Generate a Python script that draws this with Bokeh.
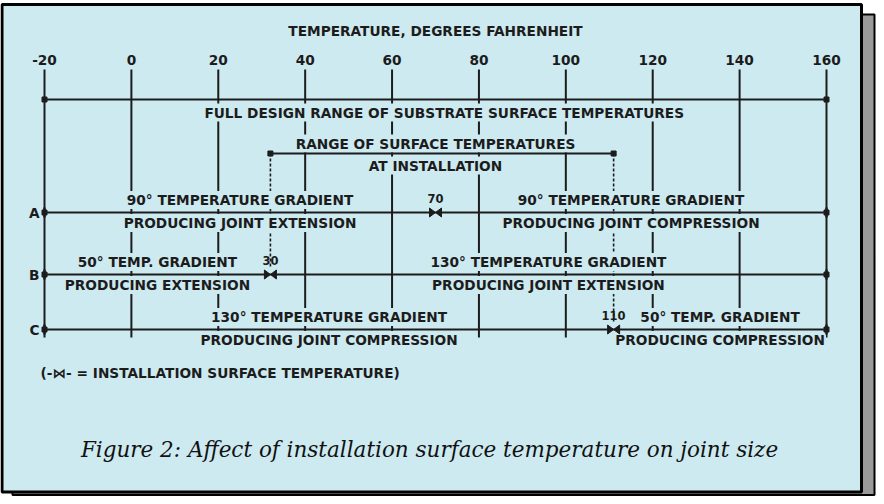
import numpy as np
from bokeh.plotting import figure
from bokeh.models import Range1d, ColumnDataSource
from bokeh.core.properties import value
from bokeh.embed import file_html
from bokeh.resources import INLINE

# ---------------- data ----------------
ticks = [-20, 0, 20, 40, 60, 80, 100, 120, 140, 160]
tick_labels = ["-20", "0", "20", "40", "60", "80", "100", "120", "140", "160"]
design_range = [-20, 160]
install_range = [32, 111]          # as drawn
rows = ["A", "B", "C"]
install_temps = [70, 32, 111]      # marker positions as drawn
install_labels = ["70", "30", "110"]
left_top = ["90° TEMPERATURE GRADIENT", "50° TEMP. GRADIENT", "130° TEMPERATURE GRADIENT"]
left_bot = ["PRODUCING JOINT EXTENSION", "PRODUCING EXTENSION", "PRODUCING JOINT COMPRESSION"]
right_top = ["90° TEMPERATURE GRADIENT", "130° TEMPERATURE GRADIENT", "50° TEMP. GRADIENT"]
right_bot = ["PRODUCING JOINT COMPRESSION", "PRODUCING JOINT EXTENSION", "PRODUCING COMPRESSION"]
title = "TEMPERATURE, DEGREES FAHRENHEIT"
design_label = "FULL DESIGN RANGE OF SUBSTRATE SURFACE TEMPERATURES"
install_label1 = "RANGE OF SURFACE TEMPERATURES"
install_label2 = "AT INSTALLATION"
legend_text = "(-\u22c8- = INSTALLATION SURFACE TEMPERATURE)"
caption = "Figure 2: Affect of installation surface temperature on joint size"

# ---------------- layout ----------------
W, H = 876, 496
PX_PER_DEG = (834 - 52) / 180.0
X0_PX = 44.0  # pixel of first tick inside figure
T0 = ticks[0] - X0_PX / PX_PER_DEG
T1 = T0 + W / PX_PER_DEG


def tx(px):
    return T0 + px / PX_PER_DEG


row_y = [212, 274, 329]
PANEL = "#cdeaf1"
INK = "#1c1c1c"
FONT = value("DejaVu Sans")
FS = "13.7px"

p = figure(width=W, height=H, output_backend="svg", toolbar_location=None,
           x_range=Range1d(T0, T1), y_range=Range1d(H, 0),
           x_axis_location=None, y_axis_location=None, min_border=0)
p.grid.visible = False
p.outline_line_color = None
p.background_fill_color = "white"
p.border_fill_color = "white"

# shadow and panel
p.quad(left=[tx(12)], right=[tx(874)], top=[14], bottom=[494.5],
       fill_color="#9a9a9a", line_color="black", line_width=2)
p.quad(left=[tx(1.5)], right=[tx(861)], top=[4], bottom=[491.5],
       fill_color=PANEL, line_color="black", line_width=3)

# vertical tick lines
p.segment(x0=ticks, x1=ticks, y0=[69] * len(ticks), y1=[337] * len(ticks),
          line_color=INK, line_width=2)

# dashed verticals from installation range
p.segment(x0=install_range, x1=install_range, y0=[153, 153],
          y1=[row_y[1] - 8, row_y[2] - 8], line_color=INK, line_width=1.6,
          line_dash="3 2")

text_kw = dict(text_font=FONT, text_font_style="bold", text_color=INK,
               text_font_size=FS, text_baseline="middle", text_align="center")
bg_kw = dict(background_fill_color=PANEL, padding=1)

# title and tick labels
p.text(x=[70], y=[30], text=[title], **text_kw)
p.text(x=ticks, y=[59] * len(ticks), text=tick_labels, **text_kw)

# range labels
p.text(x=[72], y=[112], text=[design_label], **text_kw, **bg_kw)
p.text(x=[70], y=[143], text=[install_label1], **text_kw, **bg_kw)
p.text(x=[70], y=[165], text=[install_label2], **text_kw, **bg_kw)

# row labels (gradients)
lx = [(design_range[0] + t) / 2 for t in install_temps]
rx = [(design_range[1] + t) / 2 for t in install_temps]
p.text(x=lx, y=[y - 12.5 for y in row_y], text=left_top, **text_kw, **bg_kw)
p.text(x=lx, y=[y + 10.5 for y in row_y], text=left_bot, **text_kw, **bg_kw)
p.text(x=rx, y=[y - 12.5 for y in row_y], text=right_top, **text_kw, **bg_kw)
p.text(x=rx, y=[y + 10.5 for y in row_y], text=right_bot, **text_kw, **bg_kw)

# horizontal lines
p.segment(x0=[design_range[0]], x1=[design_range[1]], y0=[99], y1=[99],
          line_color=INK, line_width=2.2)
p.segment(x0=[install_range[0]], x1=[install_range[1]], y0=[153], y1=[153],
          line_color=INK, line_width=2.2)
n = len(rows)
p.segment(x0=[design_range[0]] * n, x1=[design_range[1]] * n, y0=row_y, y1=row_y,
          line_color=INK, line_width=2.2)

# end caps
cap_x = design_range * (n + 1) + install_range
cap_y = [99, 99] + [y for y in row_y for _ in (0, 1)] + [153, 153]
p.scatter(x=cap_x, y=cap_y, marker="square", size=5, color=INK)
p.segment(x0=design_range * n, x1=design_range * n,
          y0=[y - 5 for y in row_y for _ in (0, 1)],
          y1=[y + 5 for y in row_y for _ in (0, 1)], line_color=INK, line_width=2.5)

# row letters
p.text(x=[design_range[0]] * n, y=row_y, text=rows, x_offset=-5,
       **{**text_kw, "text_align": "right"})

# installation markers (bow-tie: two triangles meeting at the temperature)
dw = 6 / PX_PER_DEG
xs, ys = [], []
for t, y in zip(install_temps, row_y):
    xs.append([t - dw, t - dw, t]); ys.append([y - 4.5, y + 4.5, y])
    xs.append([t + dw, t + dw, t]); ys.append([y - 4.5, y + 4.5, y])
p.patches(xs=xs, ys=ys, fill_color=INK, line_color=INK, line_width=1)
p.text(x=install_temps, y=[y - 14 for y in row_y], text=install_labels,
       **{**text_kw, "text_font_size": "11.5px"})

# legend note
p.text(x=[tx(40)], y=[372], text=[legend_text], **{**text_kw, "text_align": "left"})

# caption
p.text(x=[tx(429)], y=[449], text=[caption], text_font=value("DejaVu Serif"),
       text_font_style="italic", text_color="#111111", text_font_size="21.5px",
       text_baseline="middle", text_align="center")

open("out.html", "w").write(file_html(p, INLINE))
